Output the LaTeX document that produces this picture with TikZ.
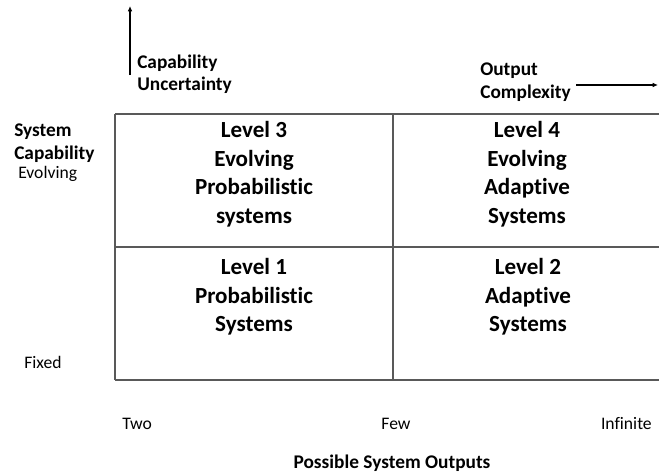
\documentclass[tikz,border=0pt]{standalone}
\usepackage{fontspec}
\setmainfont[Ligatures=NoCommon]{Carlito}
\usetikzlibrary{arrows.meta}
\begin{document}
\begin{tikzpicture}[x=0.75pt,y=-0.75pt,
  cell/.style={align=center,font=\fontsize{17.3}{21.4}\selectfont\bfseries,inner sep=0pt},
  axislabel/.style={align=left,font=\fontsize{14.5}{16.8}\selectfont\bfseries,inner sep=0pt},
  ticklabel/.style={font=\fontsize{13.2}{15}\selectfont,inner sep=0pt},
  gridline/.style={draw=black!65,line width=0.8pt},
  axisarrow/.style={draw=black,line width=0.8pt,-{Latex[length=4pt,width=3.5pt]}}]
\useasboundingbox (0,0) rectangle (659,475);

% quadrant grid
\draw[gridline] (115,114) -- (659,114);
\draw[gridline] (115,247) -- (659,247);
\draw[gridline] (115,380) -- (659,380);
\draw[gridline] (115,114) -- (115,380);
\draw[gridline] (393,114) -- (393,380);

% quadrant contents
\node[cell] (l3) at (254,174) {Level 3\\Evolving\\Probabilistic\\systems};
\node[cell] (l4) at (527,174) {Level 4\\Evolving\\Adaptive\\Systems};
\node[cell] (l1) at (254,297) {Level 1\\Probabilistic\\Systems};
\node[cell] (l2) at (528,297) {Level 2\\Adaptive\\Systems};

% axis headings
\node[axislabel,anchor=west] (capu) at (137,74) {Capability\\Uncertainty};
\node[axislabel,anchor=west] (outc) at (480,82) {Output\\Complexity};
\node[axislabel,anchor=west] (syscap) at (14,143) {System\\Capability};
\node[font=\fontsize{14.5}{16.8}\selectfont\bfseries,inner sep=0pt,anchor=base] (pso) at (392,468) {Possible System Outputs};

% axis arrows
\coordinate (capfoot) at (130,75);
\coordinate (captip) at (130,6);
\draw[axisarrow] (capfoot) -- (captip);
\coordinate (outfoot) at (576,85);
\coordinate (outtip) at (658,85);
\draw[axisarrow] (outfoot) -- (outtip);

% scale labels
\node[ticklabel,anchor=west] (evo) at (18,174) {Evolving};
\node[ticklabel,anchor=west] (fix) at (24,362) {Fixed};
\node[ticklabel,anchor=base west] (two) at (122,429) {Two};
\node[ticklabel,anchor=base] (few) at (396,429) {Few};
\node[ticklabel,anchor=base east] (inf) at (652,429) {Infinite};
\end{tikzpicture}
\end{document}
